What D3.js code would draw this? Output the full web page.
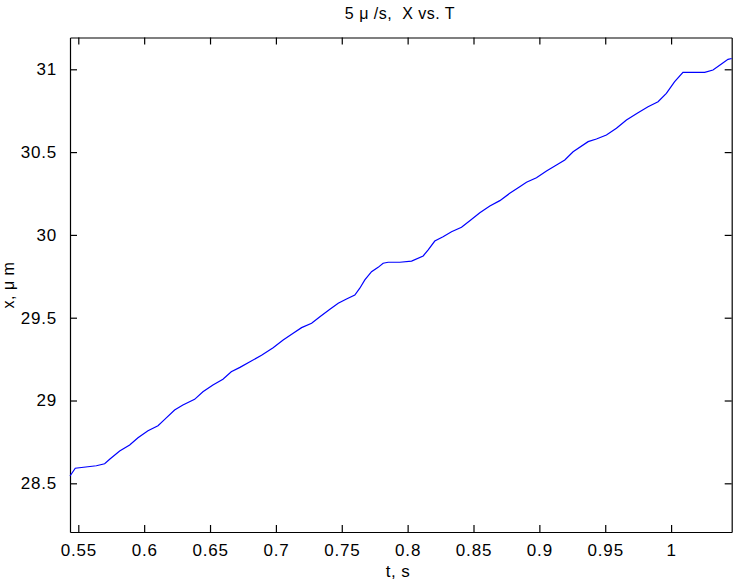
<!DOCTYPE html>
<html>
<head>
<meta charset="utf-8">
<script src="https://cdn.jsdelivr.net/npm/d3@7"></script>
<style>
  body { margin: 0; background: #fff; }
  svg { display: block; }
  text { font-family: "Liberation Sans", Arial, Helvetica, sans-serif; fill: #000; white-space: pre; }
</style>
</head>
<body>
<svg width="736" height="581"></svg>
<script>
// time (s) and position (um)
var times = [0.5437, 0.5477, 0.5637, 0.5700, 0.5738, 0.5814, 0.5890, 0.5953, 0.6029, 0.6105,
  0.6156, 0.6231, 0.6294, 0.6383, 0.6446, 0.6522, 0.6598, 0.6661, 0.6727, 0.6803,
  0.6891, 0.6979, 0.7055, 0.7131, 0.7195, 0.7271, 0.7334, 0.7410, 0.7473, 0.7536,
  0.7599, 0.7637, 0.7675, 0.7726, 0.7776, 0.7814, 0.7852, 0.7941, 0.8030, 0.8118,
  0.8156, 0.8206, 0.8269, 0.8333, 0.8409, 0.8472, 0.8548, 0.8624, 0.8700, 0.8775,
  0.8851, 0.8902, 0.8978, 0.9054, 0.9130, 0.9193, 0.9256, 0.9370, 0.9433, 0.9509,
  0.9585, 0.9661, 0.9749, 0.9825, 0.9901, 0.9964, 1.0027, 1.0090, 1.0255, 1.0318,
  1.0382, 1.0432, 1.0460];
var positions = [28.544, 28.591, 28.606, 28.618, 28.645, 28.695, 28.731, 28.775, 28.818, 28.848,
  28.886, 28.943, 28.973, 29.007, 29.053, 29.094, 29.128, 29.174, 29.200, 29.234,
  29.273, 29.319, 29.365, 29.406, 29.440, 29.466, 29.506, 29.551, 29.587, 29.613,
  29.637, 29.678, 29.728, 29.778, 29.804, 29.829, 29.835, 29.835, 29.842, 29.873,
  29.909, 29.963, 29.989, 30.019, 30.046, 30.086, 30.134, 30.175, 30.207, 30.251,
  30.291, 30.318, 30.345, 30.386, 30.422, 30.452, 30.502, 30.563, 30.579, 30.603,
  30.644, 30.694, 30.738, 30.774, 30.804, 30.855, 30.925, 30.982, 30.982, 30.996,
  31.032, 31.060, 31.065];
var xTicks = [0.55, 0.6, 0.65, 0.7, 0.75, 0.8, 0.85, 0.9, 0.95, 1];
var yTicks = [28.5, 29, 29.5, 30, 30.5, 31];

var svg = d3.select("svg");
var margin = {top: 37.5, right: 4.3, bottom: 49, left: 70};
var w = 736 - margin.left - margin.right,
    h = 581 - margin.top - margin.bottom;
var g = svg.append("g").attr("transform", "translate(" + margin.left + "," + margin.top + ")");

var x = d3.scaleLinear().domain([0.5437, 1.046]).range([0, w]);
var y = d3.scaleLinear().domain([28.206, 31.192]).range([h, 0]);

var data = times.map(function(t, i) { return {t: t, v: positions[i]}; });

// matlab style inner ticks on all four sides
var tl = 7;
g.append("g").attr("transform", "translate(0," + h + ")")
  .call(d3.axisBottom(x).tickValues(xTicks).tickSizeInner(-tl).tickSizeOuter(0).tickPadding(12)
    .tickFormat(function(d) { return d; }));
g.append("g")
  .call(d3.axisTop(x).tickValues(xTicks).tickSizeInner(-tl).tickSizeOuter(0).tickFormat(""));
g.append("g")
  .call(d3.axisLeft(y).tickValues(yTicks).tickSizeInner(-tl).tickSizeOuter(0).tickPadding(13)
    .tickFormat(function(d) { return d; }));
g.append("g").attr("transform", "translate(" + w + ",0)")
  .call(d3.axisRight(y).tickValues(yTicks).tickSizeInner(-tl).tickSizeOuter(0).tickFormat(""));

g.selectAll(".domain").attr("stroke", "#000").attr("stroke-width", 1.2);
g.selectAll(".tick line").attr("stroke", "#000").attr("stroke-width", 1.2);
g.selectAll(".tick text").style("font-size", "17px").style("letter-spacing", "0.8px").attr("fill", "#000");

var line = d3.line()
  .x(function(d) { return x(d.t); })
  .y(function(d) { return y(d.v); });

g.append("path")
  .datum(data)
  .attr("fill", "none")
  .attr("stroke", "#0000ff")
  .attr("stroke-width", 1.2)
  .attr("d", line);

svg.append("text")
  .attr("x", 400).attr("y", 19)
  .attr("text-anchor", "middle")
  .style("font-size", "16px")
  .style("letter-spacing", "0.5px")
  .text("5 \u03bc /s,  X vs. T");

svg.append("text")
  .attr("x", 398).attr("y", 577)
  .attr("text-anchor", "middle")
  .style("font-size", "17px")
  .style("letter-spacing", "0.5px")
  .text("t, s");

svg.append("text")
  .attr("transform", "translate(14,285) rotate(-90)")
  .attr("text-anchor", "middle")
  .style("font-size", "16px")
  .style("letter-spacing", "0.5px")
  .text("x, \u03bc m");
</script>
</body>
</html>
